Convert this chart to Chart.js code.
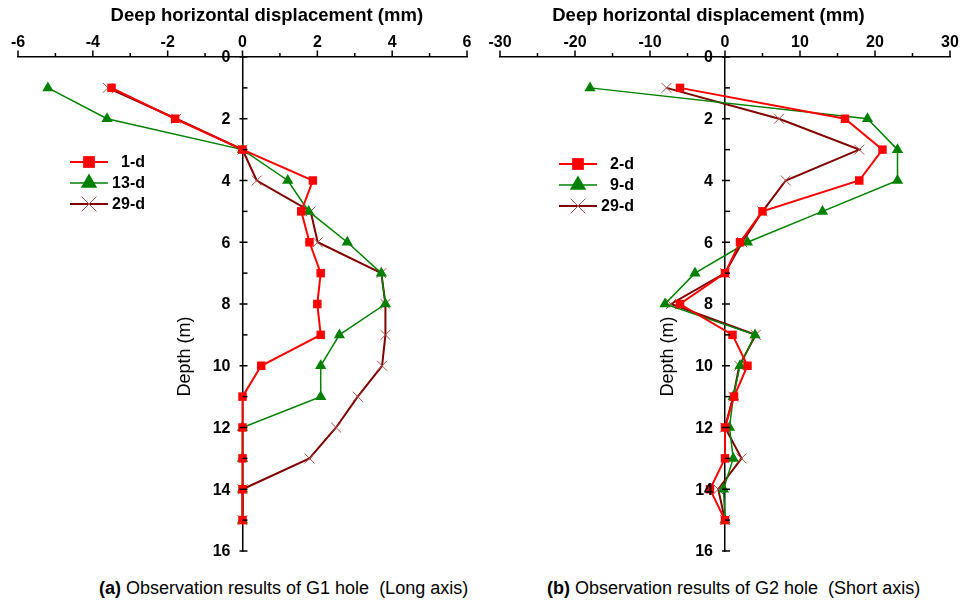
<!DOCTYPE html>
<html>
<head>
<meta charset="utf-8">
<script src="https://cdn.jsdelivr.net/npm/chart.js@4.4.1/dist/chart.umd.min.js"></script>
<style>
  body { margin: 0; background: #fff; }
  #wrap { position: relative; width: 977px; height: 605px; overflow: hidden; }
  canvas { position: absolute; top: 0; }
  #g1 { left: 0; }
  #g2 { left: 480px; }
  .caption { position: absolute; top: 578px; font: 18px "Liberation Sans", Arial, sans-serif; color: #000; white-space: nowrap; }
  .caption b { font-weight: bold; }
</style>
</head>
<body>
<div id="wrap">
  <canvas id="g1" width="480" height="565"></canvas>
  <canvas id="g2" width="497" height="565"></canvas>
  <div class="caption" style="left:99px"><b>(a)</b> Observation results of G1 hole&nbsp; (Long axis)</div>
  <div class="caption" style="left:547px"><b>(b)</b> Observation results of G2 hole&nbsp; (Short axis)</div>
</div>
<script>
const depths = [1, 2, 3, 4, 5, 6, 7, 8, 9, 10, 11, 12, 13, 14, 15];
const depthLabels = [0, 2, 4, 6, 8, 10, 12, 14, 16];

// G1 hole, long axis (mm)
const g1XLabels = [-6, -4, -2, 0, 2, 4, 6];
const g1Day1 = [-3.5, -1.8, 0, 1.88, 1.57, 1.79, 2.09, 2.0, 2.09, 0.5, 0, 0, 0, 0, 0];
const g1Day13 = [-5.2, -3.62, 0, 1.21, 1.77, 2.8, 3.71, 3.82, 2.59, 2.09, 2.09, 0, 0, 0, 0];
const g1Day29 = [-3.6, -1.77, 0, 0.38, 1.82, 2.01, 3.71, 3.82, 3.82, 3.73, 3.08, 2.5, 1.79, 0, 0];

// G2 hole, short axis (mm)
const g2XLabels = [-30, -20, -10, 0, 10, 20, 30];
const g2Day2 = [-6, 16, 21, 17.9, 5, 2, 0, -6, 1, 3, 1.2, 0, 0, -2, 0];
const g2Day9 = [-18, 19, 23, 23, 13, 3, -4, -8, 4, 2, 1.1, 0.6, 1.1, -0.2, 0];
const g2Day29 = [-7.8, 7.2, 17.9, 8.1, 5, 2.3, 0, -7.2, 4.1, 1.9, 1.1, 0, 2.2, -0.9, 0];

const RED = "#ff0000";
const GREEN = "#008000";
const MAROON = "#800000";
const FONT = "'Liberation Sans', Arial, sans-serif";

const styles = {
    square: { style: "rect", radius: 6, legendRadius: 8.3, color: RED, width: 2 },
    triangle: { style: "triangle", radius: 6.5, legendRadius: 9.5, color: GREEN, width: 1.5 },
    cross: { style: "crossRot", radius: 7, legendRadius: 10.5, color: MAROON, mark: "#a85050", width: 2 }
};

function line(ctx, x1, y1, x2, y2) {
    ctx.beginPath();
    ctx.moveTo(x1, y1);
    ctx.lineTo(x2, y2);
    ctx.stroke();
}

// minor/major ticks, depth labels, axis titles and the legend box
const axisDecor = {
    id: "axisDecor",
    afterDraw(chart, args, opts) {
        const { ctx } = chart;
        const { x, y } = chart.scales;
        const x0 = x.getPixelForValue(0);
        ctx.save();
        ctx.strokeStyle = "#000";
        ctx.lineWidth = 1.5;
        for (let v = x.min, i = 0; v <= x.max + 1e-9; v += opts.xStep, i++) {
            const px = x.getPixelForValue(v);
            line(ctx, px, x.bottom, px, x.bottom - (i % 2 === 0 ? 6.5 : 4));
        }
        for (let v = y.min; v <= y.max; v++) {
            const py = y.getPixelForValue(v);
            if (v % 2 === 0) line(ctx, x0 - 3, py, x0 + 5, py);
            else line(ctx, x0, py, x0 + 5, py);
        }

        ctx.fillStyle = "#000";
        ctx.font = `bold 16px ${FONT}`;
        ctx.textAlign = "right";
        ctx.textBaseline = "middle";
        depthLabels.forEach(v => ctx.fillText(v, x0 - 12, y.getPixelForValue(v) + 1));

        ctx.font = `bold 18.5px ${FONT}`;
        ctx.textAlign = "center";
        ctx.fillText("Deep horizontal displacement (mm)", x.getPixelForValue(opts.titleAt), 16);

        ctx.save();
        ctx.translate(x0 - 57, y.getPixelForValue(9.7));
        ctx.rotate(-Math.PI / 2);
        ctx.font = `18px ${FONT}`;
        ctx.fillText("Depth (m)", 0, 0);
        ctx.restore();

        const lg = opts.legend;
        chart.data.datasets.forEach((ds, i) => {
            const ly = lg.y + i * lg.gap;
            ctx.strokeStyle = ds.borderColor;
            ctx.lineWidth = ds.borderWidth;
            line(ctx, lg.x, ly, lg.x + 38, ly);
            ctx.fillStyle = ds.pointBackgroundColor;
            ctx.strokeStyle = ds.pointBorderColor;
            ctx.lineWidth = ds.pointBorderWidth;
            Chart.helpers.drawPoint(ctx, { pointStyle: ds.pointStyle, radius: ds.legendRadius, borderWidth: ds.pointBorderWidth, rotation: 0 }, lg.x + 19, ly);
            ctx.fillStyle = "#000";
            ctx.font = `bold 16px ${FONT}`;
            ctx.textAlign = "right";
            ctx.fillText(ds.label, lg.textRight, ly + 1);
        });
        ctx.restore();
    }
};

function drawProfile(id, cfg) {
    const datasets = cfg.series.map(s => {
        const st = styles[s.kind];
        return {
            label: s.label,
            data: depths.map((d, i) => ({ x: s.values[i], y: d })),
            borderColor: st.color,
            backgroundColor: st.color,
            borderWidth: st.width,
            pointStyle: st.style,
            pointRadius: st.radius,
            legendRadius: st.legendRadius,
            pointBackgroundColor: st.color,
            pointBorderColor: st.mark || st.color,
            pointBorderWidth: st.style === "crossRot" ? 1 : 0,
            tension: 0,
            clip: false
        };
    });
    new Chart(document.getElementById(id), {
        type: "line",
        data: { datasets },
        options: {
            responsive: false,
            animation: false,
            events: [],
            layout: { padding: cfg.padding },
            plugins: {
                legend: { display: false },
                tooltip: { enabled: false },
                axisDecor: { xStep: cfg.xStep, titleAt: cfg.titleAt, legend: cfg.legend }
            },
            scales: {
                x: {
                    type: "linear",
                    position: "top",
                    min: cfg.xMin,
                    max: cfg.xMax,
                    afterFit: scale => { scale.height = 57; },
                    ticks: {
                        stepSize: cfg.xStep,
                        autoSkip: false,
                        maxRotation: 0,
                        padding: 5,
                        color: "#000",
                        font: { family: FONT, size: 16, weight: "bold" },
                        callback: v => cfg.xLabels.includes(v) ? v : ""
                    },
                    grid: { drawOnChartArea: false, drawTicks: false },
                    border: { color: "#000", width: 1.5 }
                },
                y: {
                    type: "linear",
                    position: { x: 0 },
                    reverse: true,
                    min: 0,
                    max: 16,
                    ticks: { display: false, stepSize: 1 },
                    grid: { drawOnChartArea: false, drawTicks: false },
                    border: { color: "#000", width: 1.5 }
                }
            }
        },
        plugins: [axisDecor]
    });
}

drawProfile("g1", {
    xMin: -6, xMax: 6, xStep: 1, xLabels: g1XLabels, titleAt: 0.65,
    padding: { left: 18, right: 13, top: 0, bottom: 14 },
    legend: { x: 70, y: 162, gap: 21, textRight: 145 },
    series: [
        { label: "1-d", kind: "square", values: g1Day1 },
        { label: "13-d", kind: "triangle", values: g1Day13 },
        { label: "29-d", kind: "cross", values: g1Day29 }
    ]
});

drawProfile("g2", {
    xMin: -30, xMax: 30, xStep: 5, xLabels: g2XLabels, titleAt: -2.2,
    padding: { left: 20, right: 27, top: 0, bottom: 14 },
    legend: { x: 79, y: 164, gap: 21, textRight: 154 },
    series: [
        { label: "2-d", kind: "square", values: g2Day2 },
        { label: "9-d", kind: "triangle", values: g2Day9 },
        { label: "29-d", kind: "cross", values: g2Day29 }
    ]
});
</script>
</body>
</html>
